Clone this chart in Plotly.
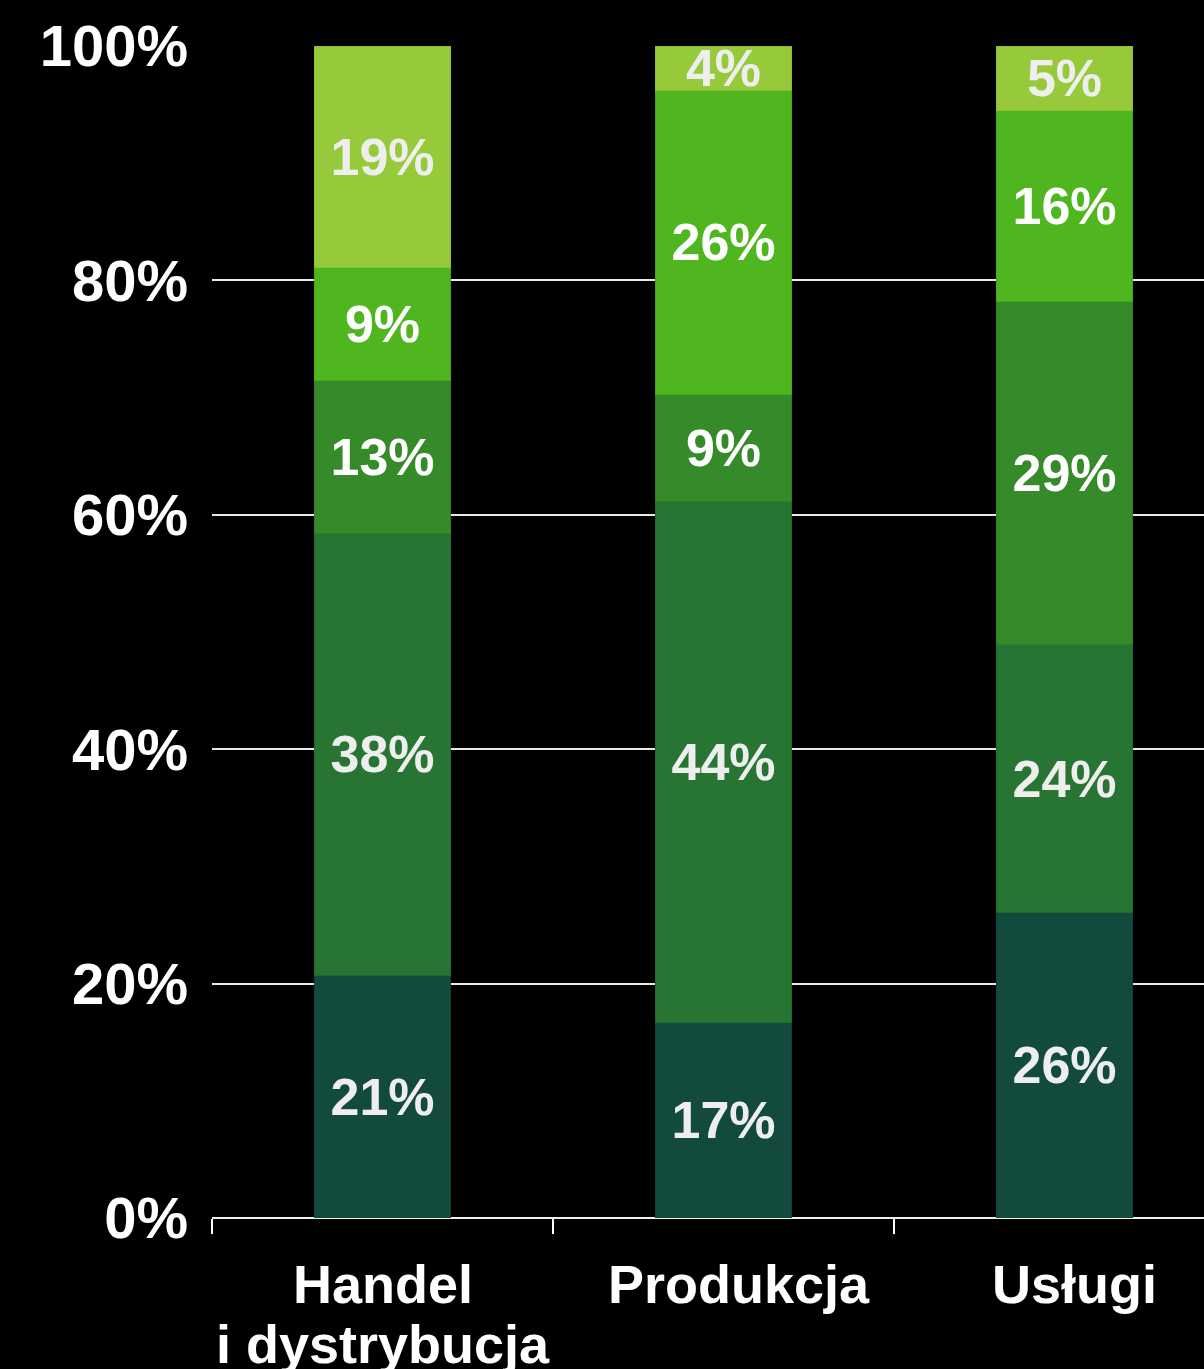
import plotly.graph_objects as go

categories = ["Handel\ni dystrybucja", "Produkcja", "Usługi"]

# segment shares (bottom to top)
seg1 = [20.7, 16.7, 26.1]
seg2 = [37.7, 44.4, 22.8]
seg3 = [13.1, 9.2, 29.3]
seg4 = [9.6, 25.9, 16.3]
seg5 = [18.9, 3.8, 5.5]

# printed labels
lab1 = ["21%", "17%", "26%"]
lab2 = ["38%", "44%", "24%"]
lab3 = ["13%", "9%", "29%"]
lab4 = ["9%", "26%", "16%"]
lab5 = ["19%", "4%", "5%"]

yticks = [0, 20, 40, 60, 80, 100]
ytick_text = ["0%", "20%", "40%", "60%", "80%", "100%"]

fills = ["#124b3e", "#277433", "#358a2a", "#50b620", "#97ca3b"]
edges = ["#0f4236", "#22692d", "#2f7d25", "#48a81c", "#8bbd35"]
txtcol = ["#eeeeee", "#eeeeee", "#ffffff", "#ffffff", "#eeeeee"]
label_xshift = [0, 15, 10]

FONT = "Liberation Sans, Arial, sans-serif"
xs = [c.replace("\n", " ") for c in categories]
series = [seg1, seg2, seg3, seg4, seg5]
labels = [lab1, lab2, lab3, lab4, lab5]

fig = go.Figure()
for i, (vals, labs) in enumerate(zip(series, labels)):
    fig.add_trace(go.Bar(
        x=xs, y=vals, text=labs, texttemplate="%{text}",
        textposition="inside", insidetextanchor="middle",
        constraintext="none", cliponaxis=False,
        textfont=dict(family=FONT, size=52, color=txtcol[i], weight="bold"),
        marker=dict(color=fills[i], line=dict(color=edges[i], width=1)),
        width=0.4, showlegend=False, hoverinfo="skip",
    ))

annotations = []
for k, (xi, cat) in enumerate(zip(xs, categories)):
    for j, line in enumerate(cat.split("\n")):
        annotations.append(dict(
            x=xi, y=0, xref="x", yref="y", text=line, showarrow=False,
            xanchor="center", yanchor="top", yshift=-34 - 60 * j, xshift=label_xshift[k],
            font=dict(family=FONT, size=54, color="#ffffff", weight="bold"),
        ))

fig.update_layout(
    barmode="stack",
    width=1204, height=1369,
    paper_bgcolor="#000000", plot_bgcolor="#000000",
    margin=dict(l=212, r=0, t=46, b=151),
    uniformtext=dict(minsize=52, mode="show"),
    annotations=annotations,
)
fig.update_xaxes(
    type="category", categoryorder="array", categoryarray=xs,
    range=[-0.5, -0.5 + 992 / 341], showticklabels=False,
    tickson="boundaries", ticks="outside", ticklen=15, tickwidth=2, tickcolor="#ffffff",
    showgrid=False, showline=False, zeroline=False, fixedrange=True,
)
fig.update_yaxes(
    range=[0, 100], tickvals=yticks, ticktext=ytick_text,
    showgrid=True, gridcolor="#e8e8e8", gridwidth=2,
    zeroline=True, zerolinecolor="#f0f0f0", zerolinewidth=2,
    ticks="", ticklabelstandoff=23,
    tickfont=dict(family=FONT, size=58, color="#ffffff", weight="bold"),
    showline=False, fixedrange=True,
)

fig.write_html("out.html", config={"displayModeBar": False})

with open("out.html", "r", encoding="utf-8") as f:
    html = f.read()
html = html.replace("<body>", "<body style=\"margin:0;padding:0;background:#000;overflow:hidden\">", 1)
with open("out.html", "w", encoding="utf-8") as f:
    f.write(html)
